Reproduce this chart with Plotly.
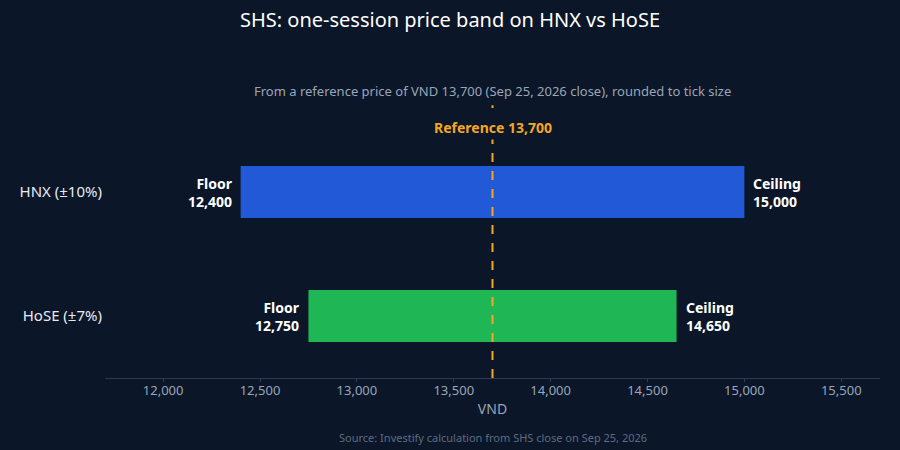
import plotly.graph_objects as go

exchanges = ["HNX (±10%)", "HoSE (±7%)"]
floors = [12400, 12750]
ceilings = [15000, 14650]
reference = 13700
bar_colors = ["#2259d6", "#1fb655"]
tick_vals = [12000, 12500, 13000, 13500, 14000, 14500, 15000, 15500]

BG = "#0b1628"
FONT = "Noto Sans"

fig = go.Figure()
fig.add_trace(go.Bar(
    y=exchanges,
    x=[c - f for c, f in zip(ceilings, floors)],
    base=floors,
    orientation="h",
    marker=dict(color=bar_colors, line=dict(width=0)),
    width=0.42,
    hoverinfo="skip",
    showlegend=False,
))

annotations = []
for ex, f, c in zip(exchanges, floors, ceilings):
    annotations.append(dict(x=f, y=ex, xref="x", yref="y", text=f"<b>Floor<br>{f:,}</b>",
                            showarrow=False, xanchor="right", align="right", xshift=-6,
                            font=dict(family=FONT, size=14, color="#ffffff")))
    annotations.append(dict(x=c, y=ex, xref="x", yref="y", text=f"<b>Ceiling<br>{c:,}</b>",
                            showarrow=False, xanchor="left", align="left", xshift=7,
                            font=dict(family=FONT, size=14, color="#ffffff")))

annotations.append(dict(x=reference, y=1.01, xref="x", yref="paper",
                        text=f"<b>Reference {reference:,}</b>", showarrow=False,
                        xanchor="center", yanchor="middle", bgcolor=BG, borderpad=2,
                        font=dict(family=FONT, size=14, color="#f5a623")))
annotations.append(dict(x=0.5, y=1.157, xref="paper", yref="paper",
                        text=f"From a reference price of VND {reference:,} (Sep 25, 2026 close), rounded to tick size",
                        showarrow=False, xanchor="center", yanchor="middle",
                        font=dict(family=FONT, size=13, color="#9aa6b8")))
annotations.append(dict(x=0.5, y=-0.24, xref="paper", yref="paper",
                        text="Source: Investify calculation from SHS close on Sep 25, 2026",
                        showarrow=False, xanchor="center", yanchor="middle",
                        font=dict(family=FONT, size=11, color="#5f6c80")))

fig.add_shape(type="line", xref="x", yref="paper", x0=reference, x1=reference,
              y0=0, y1=1.10, line=dict(color="#f5a623", width=2, dash="dash"), layer="above")

fig.update_layout(
    width=900, height=450,
    paper_bgcolor=BG, plot_bgcolor=BG,
    margin=dict(l=105, r=20, t=130, b=72),
    title=dict(text="SHS: one-session price band on HNX vs HoSE", x=0.5, xanchor="center",
               y=0.955, yanchor="middle", font=dict(family=FONT, size=20, color="#ffffff")),
    font=dict(family=FONT, color="#e6ebf2"),
    annotations=annotations,
    xaxis=dict(range=[11700, 15700], tickvals=tick_vals, tickformat=",d",
               showgrid=False, zeroline=False, showline=True, linecolor="#2a3a52", linewidth=1,
               ticks="outside", tickcolor="#2a3a52", ticklen=3, ticklabelstandoff=-3,
               tickfont=dict(family=FONT, size=13, color="#9aa6b8"),
               title=dict(text="VND", font=dict(family=FONT, size=14, color="#9aa6b8"), standoff=6)),
    yaxis=dict(categoryorder="array", categoryarray=exchanges, autorange="reversed",
               range=[1.5, -0.5],
               showgrid=False, zeroline=False, showline=False, ticks="",
               tickfont=dict(family=FONT, size=15, color="#e6ebf2"), ticklabelstandoff=2),
    bargap=0.58,
)

fig.write_html("out.html", config={"displayModeBar": False},
               post_script="document.body.style.margin='0';document.body.style.background='" + BG + "';")
